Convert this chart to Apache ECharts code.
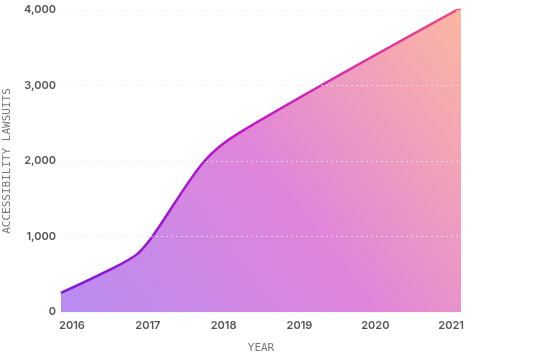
<!DOCTYPE html>
<html>
<head>
<meta charset="utf-8">
<script src="https://cdn.jsdelivr.net/npm/echarts@6/dist/echarts.min.js"></script>
<style>
  html, body { margin: 0; padding: 0; background: #fff; }
  #chart { width: 540px; height: 354px; }
</style>
</head>
<body>
<div id="chart"></div>
<script>
// 年份刻度
var yearTicks = [2016, 2017, 2018, 2019, 2020, 2021];
// 曲线上的点 (年份, 诉讼数量)
var pointYears = [2015.855, 2016.5, 2016.85, 2017.06, 2017.73, 2018.2, 2021.13];
var lawsuits = [252, 560, 760, 1000, 1980, 2370, 4030];

function buildData() {
    var data = [];
    for (var i = 0; i < pointYears.length; i++) {
        data.push([pointYears[i], lawsuits[i]]);
    }
    return data;
}

function initChart() {
    var option = {
        animation: false,
        grid: {
            left: 61,
            right: 79,
            top: 10,
            bottom: 42,
            outerBoundsMode: 'none'
        },
        xAxis: {
            type: 'value',
            min: pointYears[0],
            max: pointYears[pointYears.length - 1],
            name: 'YEAR',
            nameLocation: 'middle',
            nameGap: 31,
            nameTextStyle: {
                fontFamily: 'DejaVu Sans Mono',
                fontSize: 11,
                color: '#777'
            },
            axisLine: {show: false},
            axisTick: {show: false},
            splitLine: {show: false},
            axisLabel: {
                customValues: yearTicks,
                margin: 8,
                fontFamily: 'Inter',
                fontWeight: 600,
                fontSize: 11,
                color: '#555',
                formatter: function (v) { return String(Math.round(v)); }
            }
        },
        yAxis: {
            type: 'value',
            min: 0,
            max: 4000,
            interval: 1000,
            z: 10,
            name: 'ACCESSIBILITY LAWSUITS',
            nameLocation: 'middle',
            nameGap: 48,
            nameTextStyle: {
                fontFamily: 'DejaVu Sans Mono',
                fontSize: 11,
                color: '#777'
            },
            axisLine: {show: false},
            axisTick: {show: false},
            axisLabel: {
                margin: 5,
                fontFamily: 'Inter',
                fontWeight: 600,
                fontSize: 11,
                color: '#555'
            },
            splitLine: {
                lineStyle: {
                    type: [2, 3],
                    width: 1,
                    color: 'rgba(232,232,232,0.8)'
                }
            }
        },
        series: [
            {
                type: 'line',
                data: buildData(),
                smooth: 0.3,
                showSymbol: false,
                lineStyle: {
                    width: 2.5,
                    color: new echarts.graphic.LinearGradient(0, 0, 1, 0, [
                        {offset: 0, color: '#7a18d8'},
                        {offset: 0.5, color: '#c418c6'},
                        {offset: 1, color: '#ee4a84'}
                    ])
                },
                areaStyle: {
                    opacity: 1,
                    color: new echarts.graphic.LinearGradient(0, 1, 1, 0, [
                        {offset: 0, color: '#b88cf2'},
                        {offset: 0.5, color: '#e185da'},
                        {offset: 1, color: '#fdb7a0'}
                    ])
                }
            }
        ]
    };
    var chart = echarts.init(document.getElementById('chart'));
    chart.setOption(option);
}

initChart();
</script>
</body>
</html>
